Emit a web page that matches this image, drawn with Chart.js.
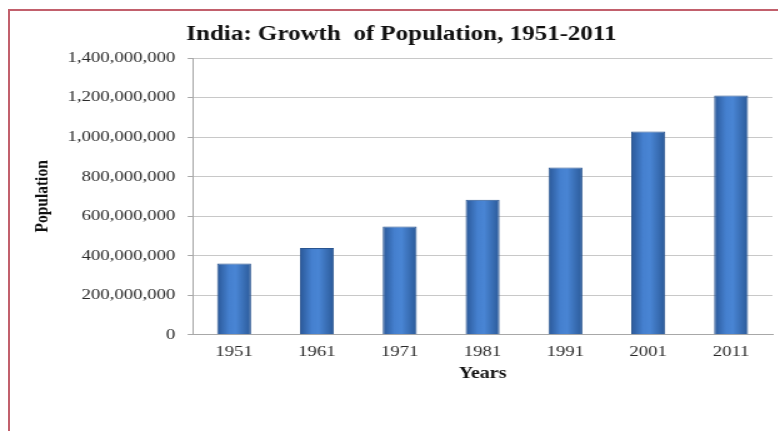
<!DOCTYPE html>
<html>
<head>
<meta charset="utf-8">
<script src="https://cdn.jsdelivr.net/npm/chart.js@4.4.0/dist/chart.umd.min.js"></script>
<style>
  html, body { margin: 0; padding: 0; background: #fff; }
  body { width: 778px; height: 431px; overflow: hidden; position: relative; }
  #frame {
    position: absolute; left: 8px; top: 9px; width: 800px; height: 440px;
    border-top: 2px solid #c2606c; border-left: 2px solid #c2606c;
  }
  /* the source picture is stretched sideways, so draw narrower and widen */
  #wrap {
    position: absolute; left: 10px; top: 11px; width: 621px; height: 420px;
    transform: scaleX(1.25); transform-origin: 0 0;
  }
</style>
</head>
<body>
<div id="frame"></div>
<div id="wrap"><canvas id="chart"></canvas></div>
<script>
const years = ["1951", "1961", "1971", "1981", "1991", "2001", "2011"];
const population = [361088090, 439234771, 548159652, 683329097, 846421039, 1028737436, 1210854977];
const yTicks = [0, 200000000, 400000000, 600000000, 800000000, 1000000000, 1200000000, 1400000000];

const barPct = 0.41;
const serif = "'Liberation Serif', 'Times New Roman', serif";

function barFill(context) {
  const chart = context.chart;
  const x = chart.scales.x;
  if (!chart.chartArea || !x) return "#3f78c4";
  const cx = x.getPixelForValue(context.dataIndex);
  const half = (x.width / years.length) * barPct / 2;
  const g = chart.ctx.createLinearGradient(cx - half, 0, cx + half, 0);
  g.addColorStop(0, "#2a5898");
  g.addColorStop(0.35, "#4580cf");
  g.addColorStop(0.55, "#4985d4");
  g.addColorStop(1, "#2b5a99");
  return g;
}

new Chart(document.getElementById("chart"), {
  type: "bar",
  data: {
    labels: years,
    datasets: [{
      label: "Population",
      data: population,
      backgroundColor: barFill,
      borderColor: "#2a5590",
      borderWidth: 1,
      barPercentage: barPct,
      categoryPercentage: 1
    }]
  },
  options: {
    responsive: true,
    maintainAspectRatio: false,
    animation: false,
    layout: { padding: { left: 16.3, right: 11, top: 0, bottom: 48 } },
    plugins: {
      legend: { display: false },
      tooltip: { enabled: false },
      title: {
        display: true,
        text: "India: Growth  of Population, 1951-2011",
        color: "#111",
        font: { family: serif, size: 20, weight: "bold" },
        padding: { top: 12, bottom: 11 }
      }
    },
    scales: {
      x: {
        grid: { display: false, drawTicks: false },
        border: { color: "#a8a8a8", width: 1 },
        ticks: {
          color: "#2a2a2a",
          padding: 10,
          font: { family: serif, size: 15, lineHeight: 1 }
        },
        title: {
          display: true,
          text: "Years",
          color: "#111",
          padding: { top: -6, bottom: 0 },
          font: { family: serif, size: 16, weight: "bold" }
        }
      },
      y: {
        min: 0,
        max: 1400000000,
        afterBuildTicks: (axis) => { axis.ticks = yTicks.map(v => ({ value: v })); },
        grid: { color: "#c8c8c8", lineWidth: 1, tickLength: 4, tickColor: "#a8a8a8" },
        border: { color: "#a8a8a8", width: 1 },
        ticks: {
          color: "#2a2a2a",
          padding: 10,
          font: { family: serif, size: 15 },
          callback: (v) => Number(v).toLocaleString("en-US")
        },
        title: {
          display: true,
          text: "Population",
          color: "#111",
          padding: { top: 0, bottom: 1 },
          font: { family: serif, size: 15.5, weight: "bold" }
        }
      }
    }
  }
});
</script>
</body>
</html>
